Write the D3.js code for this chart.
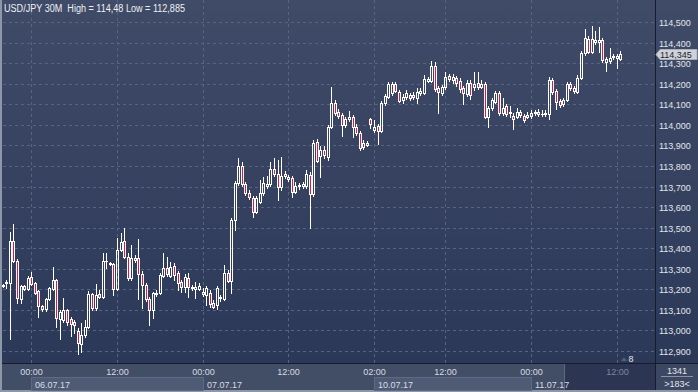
<!DOCTYPE html>
<html><head><meta charset="utf-8">
<script src="https://cdn.jsdelivr.net/npm/d3@7"></script>
<style>html,body{margin:0;padding:0;background:#2d3a5a;overflow:hidden}svg{display:block}</style>
</head><body>
<svg id="c" width="698" height="392"></svg>
<script>
// ---- data (USD/JPY 30M candles, 05.07.17 20:00 .. 11.07.17 12:30) ----
const openP = [113.216,113.229,113.232,113.436,113.339,113.151,113.216,113.200,113.258,113.229,
113.193,113.119,113.103,113.153,113.201,113.245,113.054,113.051,113.099,113.054,
113.041,112.997,112.934,112.978,113.018,113.176,113.111,113.177,113.164,113.336,
113.329,113.321,113.200,113.391,113.435,113.358,113.253,113.351,113.351,113.273,
113.221,113.153,113.099,113.175,113.180,113.266,113.302,113.266,113.315,113.278,
113.237,113.210,113.253,113.212,113.200,113.202,113.188,113.172,113.183,113.132,
113.124,113.163,113.151,113.278,113.242,113.537,113.715,113.800,113.712,113.669,
113.642,113.577,113.626,113.667,113.702,113.712,113.784,113.761,113.696,113.761,
113.744,113.741,113.675,113.703,113.702,113.702,113.756,113.663,113.918,113.848,
113.877,113.843,113.991,114.107,114.064,114.048,113.999,114.027,114.036,113.991,
113.959,113.891,113.913,114.029,113.975,113.994,113.971,114.105,114.137,114.153,
114.198,114.161,114.121,114.137,114.145,114.143,114.129,114.153,114.156,114.215,
114.215,114.286,114.178,114.153,114.182,114.237,114.218,114.226,114.215,114.178,
114.150,114.202,114.182,114.202,114.185,114.198,114.039,114.080,114.112,114.153,
114.056,114.091,114.056,114.043,114.039,114.064,114.043,114.040,114.043,114.056,
114.064,114.055,114.051,114.051,114.218,114.164,114.116,114.100,114.121,114.197,
114.180,114.161,114.229,114.348,114.417,114.356,114.401,114.404,114.412,114.307,
114.310,114.328,114.325,114.320];
const highP = [113.226,113.245,113.480,113.518,113.345,113.221,113.221,113.265,113.286,113.235,
113.197,113.124,113.158,113.211,113.310,113.250,113.099,113.156,113.104,113.065,
113.051,113.012,113.036,113.051,113.192,113.182,113.224,113.197,113.375,113.375,
113.332,113.328,113.448,113.472,113.497,113.375,113.415,113.367,113.444,113.289,
113.231,113.163,113.187,113.197,113.279,113.375,113.358,113.334,113.328,113.289,
113.245,113.274,113.278,113.221,113.237,113.229,113.206,113.216,113.197,113.148,
113.216,113.172,113.318,113.294,113.547,113.727,113.837,113.821,113.722,113.683,
113.654,113.654,113.732,113.748,113.751,113.821,113.837,113.829,113.845,113.775,
113.756,113.751,113.722,113.717,113.722,113.780,113.770,113.926,113.931,113.897,
113.897,113.999,114.182,114.121,114.077,114.057,114.038,114.069,114.048,114.004,
113.970,113.926,113.921,114.033,114.023,114.004,114.116,114.150,114.208,114.208,
114.208,114.169,114.150,114.169,114.155,114.160,114.179,114.179,114.242,114.234,
114.312,114.305,114.189,114.194,114.257,114.247,114.247,114.237,114.228,114.189,
114.218,114.218,114.257,114.257,114.218,114.208,114.091,114.130,114.164,114.164,
114.130,114.101,114.091,114.057,114.082,114.072,114.053,114.062,114.072,114.072,
114.077,114.072,114.072,114.232,114.228,114.174,114.126,114.130,114.208,114.208,
114.189,114.242,114.359,114.466,114.433,114.480,114.456,114.477,114.422,114.330,
114.375,114.344,114.344,114.360];
const lowP = [113.209,113.205,112.957,113.332,113.135,113.135,113.197,113.195,113.221,113.177,
113.064,113.094,113.094,113.148,113.197,113.018,112.957,113.041,113.027,112.973,
112.988,112.885,112.896,112.968,113.013,113.099,113.099,113.158,113.158,113.303,
113.316,113.172,113.197,113.386,113.352,113.245,113.245,113.332,113.153,113.110,
113.143,113.027,113.059,113.167,113.177,113.260,113.265,113.260,113.245,113.197,
113.188,113.188,113.164,113.197,113.156,113.197,113.167,113.124,113.115,113.107,
113.103,113.143,113.148,113.235,113.180,113.488,113.707,113.702,113.659,113.639,
113.553,113.571,113.620,113.659,113.693,113.702,113.751,113.634,113.683,113.741,
113.727,113.649,113.668,113.688,113.693,113.693,113.497,113.654,113.819,113.748,
113.839,113.829,113.984,114.048,114.033,113.946,113.989,114.018,113.942,113.950,
113.877,113.882,113.897,113.984,113.967,113.907,113.965,114.096,114.130,114.145,
114.160,114.111,114.106,114.125,114.121,114.125,114.106,114.145,114.150,114.208,
114.208,114.164,114.059,114.145,114.174,114.213,114.203,114.189,114.160,114.100,
114.140,114.125,114.169,114.174,114.179,114.033,113.991,114.072,114.106,114.048,
114.048,114.043,114.038,113.978,114.033,114.038,114.014,114.033,114.033,114.048,
114.043,114.043,114.043,114.028,114.150,114.077,114.087,114.091,114.116,114.169,
114.155,114.155,114.223,114.339,114.349,114.349,114.393,114.356,114.305,114.262,
114.299,114.320,114.275,114.315];
const closeP = [113.221,113.237,113.436,113.339,113.156,113.216,113.200,113.253,113.226,113.184,
113.119,113.103,113.151,113.205,113.245,113.059,113.091,113.099,113.042,113.031,
113.027,112.937,112.978,113.018,113.177,113.111,113.172,113.164,113.337,113.338,
113.321,113.200,113.391,113.431,113.358,113.253,113.354,113.341,113.273,113.221,
113.153,113.099,113.180,113.182,113.270,113.302,113.273,113.310,113.270,113.232,
113.210,113.261,113.210,113.206,113.212,113.218,113.177,113.205,113.128,113.115,
113.205,113.158,113.278,113.242,113.537,113.715,113.800,113.712,113.667,113.647,
113.577,113.642,113.667,113.715,113.712,113.784,113.761,113.696,113.751,113.751,
113.738,113.675,113.702,113.707,113.712,113.761,113.663,113.910,113.825,113.877,
113.853,113.991,114.107,114.056,114.043,113.999,114.027,114.036,113.991,113.959,
113.886,113.913,113.902,114.003,113.991,113.971,114.105,114.140,114.198,114.198,
114.166,114.117,114.137,114.156,114.129,114.136,114.161,114.166,114.221,114.221,
114.286,114.173,114.161,114.182,114.234,114.224,114.231,114.202,114.173,114.156,
114.205,114.145,114.198,114.182,114.198,114.039,114.080,114.121,114.156,114.056,
114.080,114.052,114.061,114.027,114.064,114.048,114.023,114.048,114.059,114.064,
114.051,114.051,114.059,114.218,114.158,114.109,114.096,114.121,114.197,114.180,
114.164,114.229,114.348,114.421,114.356,114.417,114.412,114.412,114.315,114.320,
114.323,114.336,114.335,114.345];

const priceTicks = [112.9,113.0,113.1,113.2,113.3,113.4,113.5,113.6,113.7,113.8,113.9,114.0,114.1,114.2,114.3,114.4,114.5];
const timeTickIndex = [8,32,56,80,104,124,148,172];
const timeTickLabels = ["00:00","12:00","00:00","12:00","02:00","12:00","00:00","12:00"];
const dateStartIndex = [8,56,104,148];
const dateLabels = ["06.07.17","07.07.17","10.07.17","11.07.17"];
const titleText = "USD/JPY 30M  High = 114,48 Low = 112,885";
const lastPrice = 114.345;
const counterTop = "1341", counterBottom = ">183<", markerCount = "8";

// ---- layout ----
const W = 698, H = 392;
const plotL = 2, plotR = 655, plotT = 0, plotB = 363;
const FONT = "'Liberation Sans', Arial, sans-serif";
const svg = d3.select("#c");

const x = d3.scaleLinear().domain([0, 172]).range([2.7, 2.7 + 3.57 * 172]);
const y = d3.scaleLinear().domain([112.9, 114.5]).range([351, 22]);

const defs = svg.append("defs");
const grad = defs.append("linearGradient").attr("id", "bg").attr("x1", 0).attr("y1", 0).attr("x2", 0).attr("y2", 1);
grad.append("stop").attr("offset", "0%").attr("stop-color", "#3f4b67");
grad.append("stop").attr("offset", "100%").attr("stop-color", "#2c3858");

// backgrounds
svg.append("rect").attr("x", 0).attr("y", 0).attr("width", W).attr("height", plotB + 1).attr("fill", "url(#bg)");
svg.append("rect").attr("x", 0).attr("y", plotB + 1).attr("width", W).attr("height", H - plotB - 1).attr("fill", "#424d66");

// grid
const grid = svg.append("g").attr("stroke", "#56647f").attr("stroke-width", 1).attr("stroke-dasharray", "3,3");
priceTicks.forEach(p => {
  const yy = Math.round(y(p)) + 0.5;
  grid.append("line").attr("x1", plotL + 1).attr("x2", plotR).attr("y1", yy).attr("y2", yy);
});
timeTickIndex.forEach(i => {
  const xx = Math.round(x(i)) + 0.5;
  grid.append("line").attr("x1", xx).attr("x2", xx).attr("y1", plotT).attr("y2", plotB);
});

// candles
const data = openP.map((o, i) => ({i, o, h: highP[i], l: lowP[i], c: closeP[i]}));
const cg = svg.append("g");
data.forEach(d => {
  const cx = Math.round(x(d.i));
  const up = d.c >= d.o;
  const yTop = Math.round(y(Math.max(d.o, d.c)));
  const yBot = Math.round(y(Math.min(d.o, d.c)));
  const yH = Math.round(y(d.h));
  const yL = Math.round(y(d.l));
  const wx = cx + 0.5;
  if (yH < yTop) cg.append("line").attr("x1", wx).attr("x2", wx).attr("y1", yH).attr("y2", yTop).attr("stroke", "#ffffff");
  if (yL > yBot) cg.append("line").attr("x1", wx).attr("x2", wx).attr("y1", yBot + 1).attr("y2", yL + 1).attr("stroke", "#ffffff");
  if (yBot - yTop < 2) {
    cg.append("rect").attr("x", cx - 1).attr("y", yTop).attr("width", 3).attr("height", Math.max(1, yBot - yTop + 1))
      .attr("fill", "#ffffff");
  } else {
    cg.append("rect").attr("x", cx - 0.5).attr("y", yTop + 0.5).attr("width", 2).attr("height", yBot - yTop)
      .attr("fill", up ? "none" : "#e0163f").attr("stroke", "#ffffff").attr("stroke-width", 1);
  }
});

// frame lines
svg.append("rect").attr("x", 0).attr("y", 0).attr("width", 2).attr("height", H).attr("fill", "#8e97a8");
svg.append("rect").attr("x", 0).attr("y", H - 2).attr("width", W).attr("height", 2).attr("fill", "#8e97a8");
svg.append("line").attr("x1", 2).attr("x2", W).attr("y1", plotB + 0.5).attr("y2", plotB + 0.5).attr("stroke", "#161c2b");
svg.append("line").attr("x1", plotR + 0.5).attr("x2", plotR + 0.5).attr("y1", 0).attr("y2", H - 2).attr("stroke", "#161c2b");

// time axis: date boxes
const darkStart = 564;
dateStartIndex.forEach((s, k) => {
  const x0 = Math.round(x(s));
  const x1 = k < dateStartIndex.length - 1 ? Math.round(x(dateStartIndex[k + 1])) : darkStart;
  if (k % 2 === 0) {
    svg.append("rect").attr("x", x0 + 0.5).attr("y", 377.5).attr("width", x1 - x0).attr("height", 13)
      .attr("fill", "#4f5b75").attr("stroke", "#5e6a84");
  }
});
svg.append("rect").attr("x", darkStart).attr("y", plotB + 1).attr("width", plotR - darkStart).attr("height", H - plotB - 3)
  .attr("fill", "#2c3652");
svg.append("line").attr("x1", darkStart + 0.5).attr("x2", darkStart + 0.5).attr("y1", plotB + 1).attr("y2", H - 2).attr("stroke", "#5c6782");

// time labels
timeTickIndex.forEach((i, k) => {
  const xx = Math.round(x(i)) + 0.5;
  svg.append("text").attr("x", xx).attr("y", 374.5).attr("text-anchor", "middle")
    .attr("font-family", FONT).attr("font-size", 9)
    .attr("fill", xx > darkStart ? "#7d889e" : "#d6dbe4").text(timeTickLabels[k]);
});
dateStartIndex.forEach((s, k) => {
  svg.append("text").attr("x", Math.round(x(s)) + 4).attr("y", 387.5)
    .attr("font-family", FONT).attr("font-size", 9).attr("fill", "#d6dbe4").text(dateLabels[k]);
});

// price axis labels
const fmt = p => d3.format(".3f")(p).replace(".", ",");
priceTicks.forEach(p => {
  svg.append("text").attr("x", 659).attr("y", Math.round(y(p)) + 3.5)
    .attr("font-family", FONT).attr("font-size", 9).attr("fill", "#e2e6ec").text(fmt(p));
});

// last price marker
const ly = Math.round(y(lastPrice));
svg.append("path").attr("d", `M656,${ly + 0.5} L660,${ly - 4.5} L697,${ly - 4.5} L697,${ly + 5.5} L660,${ly + 5.5} Z`)
  .attr("fill", "#cfd2d8").attr("stroke", "#a9aeb8").attr("stroke-width", 1);
svg.append("text").attr("x", 660).attr("y", ly + 4)
  .attr("font-family", FONT).attr("font-size", 9).attr("fill", "#1c2230").text(fmt(lastPrice));

// bottom right counter
svg.append("rect").attr("x", plotR + 1).attr("y", plotB + 1).attr("width", W - plotR - 1).attr("height", H - plotB - 3).attr("fill", "#3c4761");
svg.append("text").attr("x", 677).attr("y", 373.5).attr("text-anchor", "middle")
  .attr("font-family", FONT).attr("font-size", 9).attr("fill", "#e2e6ec").text(counterTop);
svg.append("line").attr("x1", 661).attr("x2", 693).attr("y1", 376.5).attr("y2", 376.5).attr("stroke", "#8a93a6");
svg.append("text").attr("x", 677).attr("y", 386.5).attr("text-anchor", "middle")
  .attr("font-family", FONT).attr("font-size", 9).attr("fill", "#e2e6ec").text(counterBottom);

// small marker "8"
svg.append("path").attr("d", "M621,361 L624,357.5 L627,361 Z").attr("fill", "#56627c");
svg.append("text").attr("x", 628.5).attr("y", 362).attr("font-family", FONT).attr("font-size", 9)
  .attr("fill", "#e2e6ec").text(markerCount);

// title
svg.append("text").attr("x", 4).attr("y", 12).attr("font-family", FONT).attr("font-size", 10)
  .attr("fill", "#eef0f4").attr("textLength", 181).attr("lengthAdjust", "spacingAndGlyphs")
  .style("white-space", "pre").text(titleText);
</script>
</body></html>
